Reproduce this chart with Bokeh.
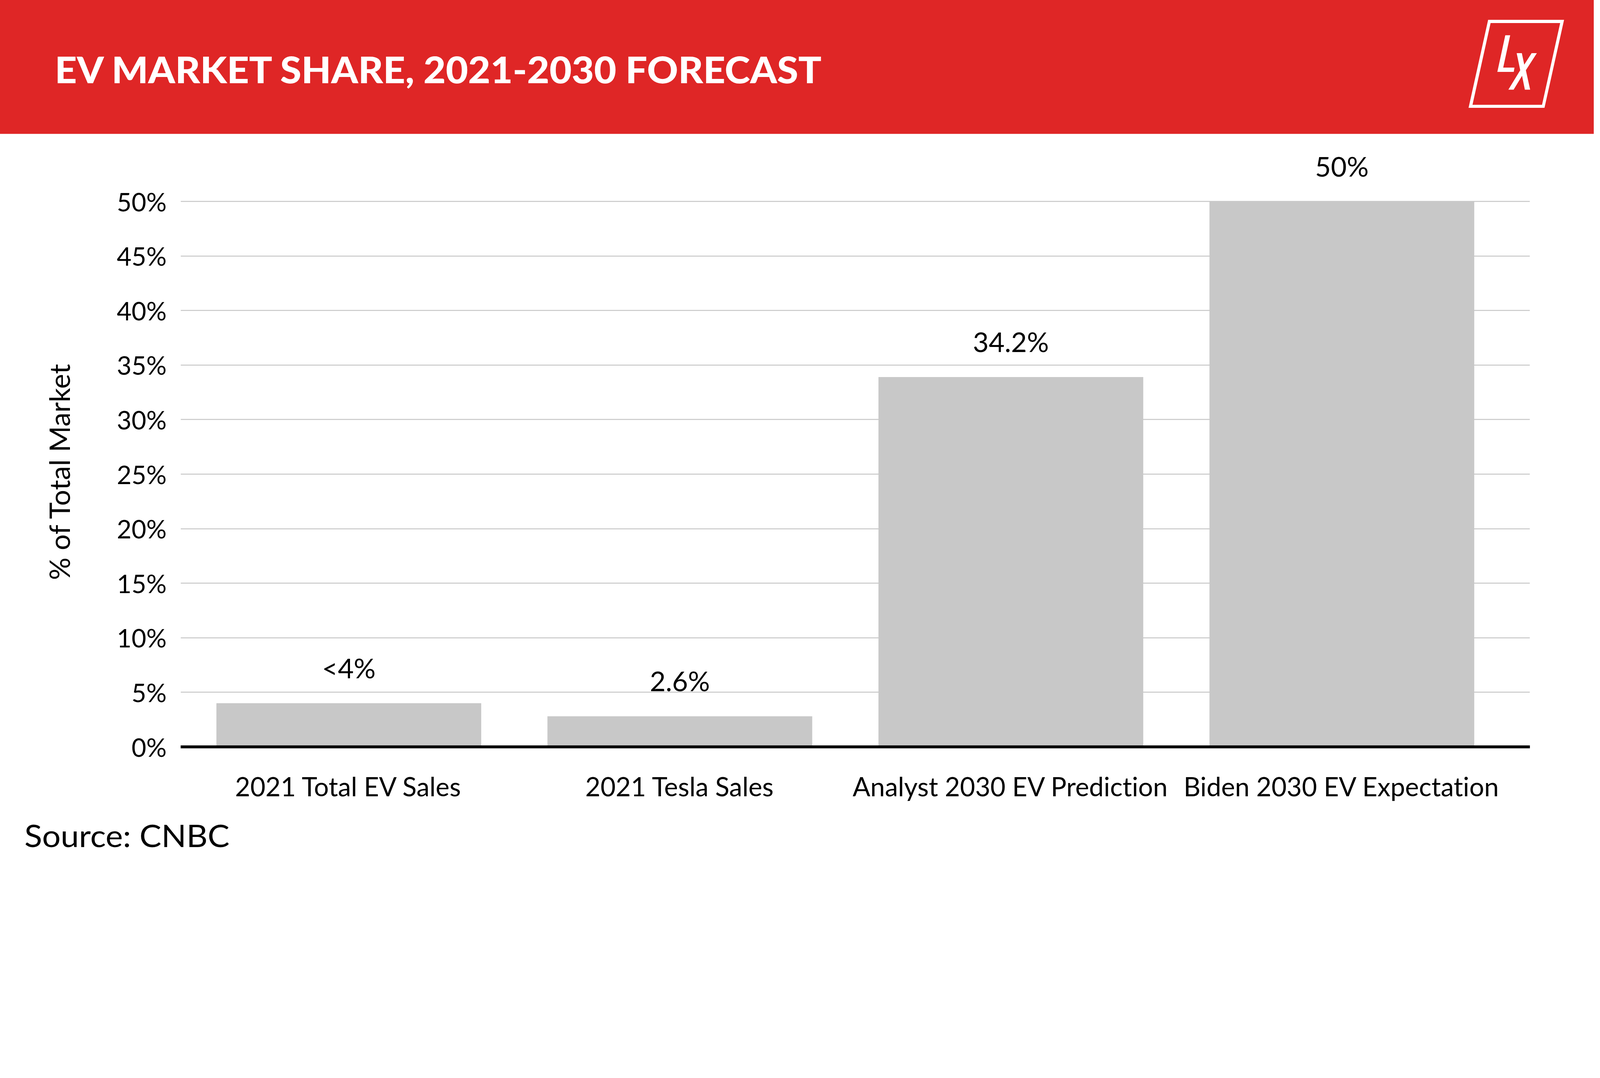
from bokeh.plotting import figure
from bokeh.layouts import column
from bokeh.models import (ColumnDataSource, Range1d, FixedTicker, PrintfTickFormatter,
                          LabelSet, Div, Title, InlineStyleSheet)
from bokeh.core.properties import value
from bokeh.embed import file_html
from bokeh.resources import INLINE

# data
categories = ["2021 Total EV Sales", "2021 Tesla Sales",
              "Analyst 2030 EV Prediction", "Biden 2030 EV Expectation"]
shares = [4.0, 2.8, 33.9, 50.0]
share_labels = ["<4%", "2.6%", "34.2%", "50%"]
y_ticks = [0, 5, 10, 15, 20, 25, 30, 35, 40, 45, 50]

title_text = "EV MARKET SHARE, 2021-2030 FORECAST"
y_title = "% of Total Market"
source_text = "Source: CNBC"

RED = "#df2626"
BAR = "#c8c8c8"
GRID = "#c8c8c8"
FONT = "Lato"

# the browser renders 4096 css px across the 5000 px picture
F = 4096 / 5000
PAGE_W, PAGE_H = 4080, 2244


def css(v):
    # reference picture px -> css px from the content origin
    return round(v * F - 8)


HEAD_H = css(428)
FOOT_TOP = css(2540)
MAIN_H = FOOT_TOP - HEAD_H
FOOT_H = PAGE_H - FOOT_TOP


def svg_block(top_css, h_css, body):
    # inline svg whose user units are the reference picture's pixels
    vb = f"{8 / F:.2f} {(top_css + 8) / F:.2f} {PAGE_W / F:.2f} {h_css / F:.2f}"
    return (f'<svg xmlns="http://www.w3.org/2000/svg" width="{PAGE_W}" height="{h_css}" '
            f'viewBox="{vb}" style="display:block">{body}</svg>')


# ---- header band with title and LX logo ----
logo_frame = ("M4660.2,71.7 L4897.5,71.7 L4836.3,346.7 L4599,346.7 Z "
              "M4667.9,81.7 L4885.3,81.7 L4828.6,337.3 L4611.3,337.3 Z")
logo_l = "4713.8,120 4729.1,120 4707.3,221 4742.5,221 4740.2,234.3 4689,234.3"
logo_x = ("4749.4,175.7 4765.5,175.7 4773.1,211.7 4796.1,175.7 4812.5,175.7 4778.1,229.3 "
          "4791.5,290 4775,290 4766.2,246.7 4739.8,290 4723.4,290 4760.5,229.3")
head_svg = (
    f'<rect x="0" y="0" width="5000" height="428" fill="{RED}"/>'
    f'<text x="181" y="270" style="font-family:{FONT};font-weight:900;font-size:113px;fill:white" '
    f'textLength="2396" lengthAdjust="spacingAndGlyphs">{title_text}</text>'
    f'<path d="{logo_frame}" fill="white" fill-rule="evenodd"/>'
    f'<polygon points="{logo_l}" fill="white"/>'
    f'<polygon points="{logo_x}" fill="white"/>'
)
head = Div(text=svg_block(0, HEAD_H, head_svg), width=PAGE_W, height=HEAD_H, margin=0)

# ---- main chart ----
xs = list(range(len(categories)))
src = ColumnDataSource(dict(x=xs, top=shares, label=share_labels))

frame_top = css(467.6)
frame_bottom = css(2342)
per_pct = (css(2342) - css(638)) / 50
y_end = (frame_bottom - frame_top) / per_pct

p = figure(width=PAGE_W, height=MAIN_H, x_range=Range1d(-0.508, 3.568), y_range=Range1d(0, y_end),
           toolbar_location=None, output_backend="svg",
           min_border_left=css(574), min_border_right=PAGE_W - css(4790),
           min_border_top=frame_top - HEAD_H, min_border_bottom=FOOT_TOP - frame_bottom)
p.outline_line_color = None
p.stylesheets = [InlineStyleSheet(css="* { font-variant-ligatures: none; }")]

p.vbar(x="x", top="top", width=0.8, bottom=0, source=src, fill_color=BAR, line_color=None)

p.add_layout(LabelSet(x="x", y="top", text="label", source=src, y_offset=64,
                      text_align="center", text_baseline="alphabetic",
                      text_font=value(FONT), text_font_size="70px", text_color="black"))

p.xgrid.visible = False
p.ygrid.grid_line_color = GRID
p.ygrid.grid_line_width = 2.5
p.ygrid.ticker = FixedTicker(ticks=y_ticks)

p.yaxis.ticker = FixedTicker(ticks=y_ticks)
p.yaxis.formatter = PrintfTickFormatter(format="%d%%")
p.yaxis.axis_line_color = None
p.yaxis.major_tick_line_color = None
p.yaxis.minor_tick_line_color = None
p.yaxis.major_label_standoff = 30
p.yaxis.major_label_text_font = FONT
p.yaxis.major_label_text_font_size = "65px"
p.yaxis.major_label_text_color = "black"

# y axis title, placed along the 0-50% span rather than centred on the frame
p.add_layout(Title(text=y_title, align="left", offset=css(2342) - css(1802) - 16, standoff=205,
                   text_font=FONT, text_font_size="72px", text_font_style="normal",
                   text_color="black"), "left")

p.xaxis.ticker = FixedTicker(ticks=xs)
p.xaxis.major_label_overrides = {i: c for i, c in zip(xs, categories)}
p.xaxis.axis_line_color = "black"
p.xaxis.axis_line_width = 7.4
p.xaxis.major_tick_line_color = None
p.xaxis.minor_tick_line_color = None
p.xaxis.major_label_standoff = 54
p.xaxis.major_label_text_font = FONT
p.xaxis.major_label_text_font_size = "67px"
p.xaxis.major_label_text_color = "black"

# ---- footer with source ----
foot_svg = (f'<text x="86" y="2656" style="font-family:{FONT};font-size:98px;fill:black" '
            f'textLength="641" lengthAdjust="spacingAndGlyphs">{source_text}</text>')
foot = Div(text=svg_block(FOOT_TOP, FOOT_H, foot_svg), width=PAGE_W, height=FOOT_H, margin=0)

layout = column(head, p, foot, spacing=0)
open("out.html", "w").write(file_html(layout, INLINE))
